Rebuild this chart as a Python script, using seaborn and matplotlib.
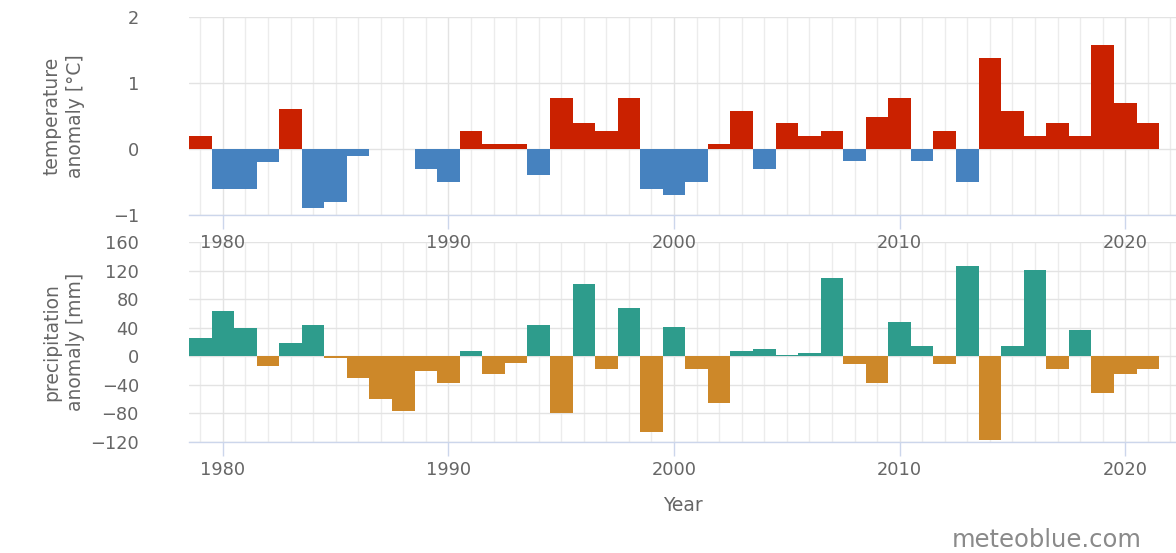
import numpy as np
import pandas as pd
import matplotlib
matplotlib.use("Agg")
import matplotlib.pyplot as plt
import seaborn as sns
from matplotlib.ticker import MultipleLocator

years = list(range(1979, 2022))
temperature = [0.2, -0.6, -0.6, -0.2, 0.6, -0.9, -0.8, -0.1, 0.0, 0.0,
               -0.3, -0.5, 0.28, 0.07, 0.07, -0.4, 0.77, 0.4, 0.28, 0.77,
               -0.6, -0.7, -0.5, 0.07, 0.58, -0.3, 0.4, 0.2, 0.28, -0.18,
               0.48, 0.77, -0.18, 0.28, -0.5, 1.38, 0.58, 0.2, 0.4, 0.2,
               1.58, 0.69, 0.4]
precipitation = [26, 64, 40, -13, 18, 44, -2, -30, -60, -77,
                 -20, -37, 7, -25, -10, 44, -79, 101, -18, 67,
                 -106, 41, -18, -65, 7, 10, 2, 4, 109, -11,
                 -37, 48, 15, -11, 127, -117, 15, 121, -18, 37,
                 -52, -25, -18]
decade_ticks = [1980, 1990, 2000, 2010, 2020]
temp_ticks = [-1, 0, 1, 2]
prec_ticks = [-120, -80, -40, 0, 40, 80, 120, 160]

RED, BLUE = "#ca2100", "#4682bf"
TEAL, ORANGE = "#2e9c8c", "#cd8829"
TXT = "#666666"
AXC = "#ccd6eb"

sns.set_theme(style="white")
plt.rcParams["font.family"] = ["DejaVu Sans"]

df_t = pd.DataFrame({"year": years, "value": temperature})
df_t["sign"] = np.where(df_t["value"] >= 0, "pos", "neg")
df_p = pd.DataFrame({"year": years, "value": precipitation})
df_p["sign"] = np.where(df_p["value"] >= 0, "pos", "neg")

fig = plt.figure(figsize=(11.76, 5.53), dpi=100)
ax2 = fig.add_axes([0.1607, 0.2007, 0.8393, 0.3617])
ax1 = fig.add_axes([0.1607, 0.6112, 0.8393, 0.358])
ax1.set_facecolor("none")

sns.barplot(data=df_t, x="year", y="value", hue="sign",
            palette={"pos": RED, "neg": BLUE}, native_scale=True, width=1,
            dodge=False, legend=False, errorbar=None, saturation=1,
            linewidth=0, ax=ax1, zorder=3)
sns.barplot(data=df_p, x="year", y="value", hue="sign",
            palette={"pos": TEAL, "neg": ORANGE}, native_scale=True, width=1,
            dodge=False, legend=False, errorbar=None, saturation=1,
            linewidth=0, ax=ax2, zorder=3)

xmin, xmax = 1978.5, 2022.25
for ax, ticks, lim in [(ax1, temp_ticks, (-1, 2)), (ax2, prec_ticks, (-120, 160))]:
    ax.set_xlim(xmin, xmax)
    ax.set_ylim(*lim)
    ax.set_yticks(ticks)
    ax.set_xticks(decade_ticks)
    ax.set_xticklabels([str(t) for t in decade_ticks])
    ax.xaxis.set_minor_locator(MultipleLocator(1))
    ax.grid(True, which="major", axis="both", color="#e3e3e3", linewidth=1, zorder=0)
    ax.grid(True, which="minor", axis="x", color="#ececec", linewidth=1, zorder=0)
    ax.set_axisbelow(True)
    for s in ["top", "right", "left"]:
        ax.spines[s].set_visible(False)
    ax.spines["bottom"].set_color(AXC)
    ax.spines["bottom"].set_linewidth(1)
    ax.spines["bottom"].set_zorder(4)
    ax.tick_params(axis="x", which="major", direction="out", length=10, width=1,
                   color=AXC, labelcolor=TXT, labelsize=12.8, pad=4, bottom=True)
    ax.tick_params(axis="x", which="minor", length=0)
    ax.tick_params(axis="y", length=0, labelcolor=TXT, labelsize=12.8, pad=36)
    ax.set_xlabel("")

ax1.set_ylabel("temperature\nanomaly [°C]", color=TXT, fontsize=13.5, linespacing=1.3)
ax1.yaxis.set_label_coords(-0.127, 0.5)
ax1.yaxis.label.set_va("center")
ax2.set_ylabel("precipitation\nanomaly [mm]", color=TXT, fontsize=13.5, linespacing=1.3)
ax2.yaxis.set_label_coords(-0.127, 0.5)
ax2.yaxis.label.set_va("center")

ax2.set_xlabel("Year", color=TXT, fontsize=13.5)
ax2.xaxis.set_label_coords(0.5, -0.315)
ax2.xaxis.label.set_va("center")

fig.text(1142 / 1176, 1 - 540 / 553, "meteoblue.com", ha="right", va="center",
         color="#8a8a8a", fontsize=17.5)

fig.savefig("out.png", dpi=100)
